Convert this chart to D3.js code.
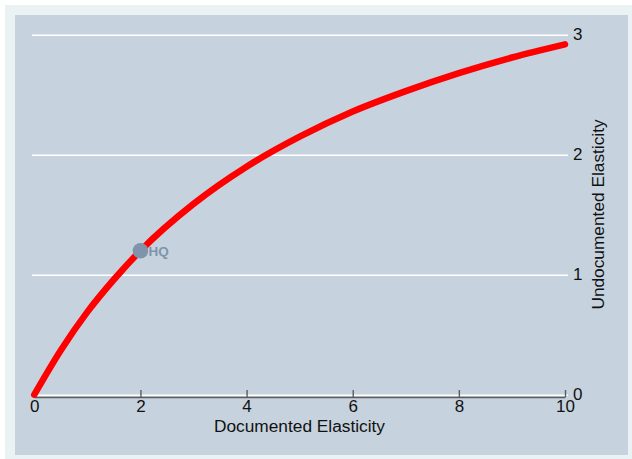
<!DOCTYPE html>
<html>
<head>
<meta charset="utf-8">
<script src="https://cdn.jsdelivr.net/npm/d3@7"></script>
<style>
html,body{margin:0;padding:0;background:#fff;}
svg{display:block;font-family:"Liberation Sans",Arial,Helvetica,sans-serif;}
</style>
</head>
<body>
<svg id="chart" width="632" height="459"></svg>
<script>
// Curve values
const documented = [0, 0.5, 1, 1.5, 2, 3, 4, 5, 6, 7, 8, 9, 10];
const undocumented = [0, 0.37, 0.69, 0.96, 1.2, 1.59, 1.9, 2.15, 2.36, 2.53, 2.68, 2.81, 2.92];
// Marked point
const pointX = [2];
const pointY = [1.2];
const pointLabel = ["HQ"];
// Ticks
const xTicks = [0, 2, 4, 6, 8, 10];
const yTicks = [0, 1, 2, 3];
const xTitle = "Documented Elasticity";
const yTitle = "Undocumented Elasticity";

const svg = d3.select("#chart");
const W = 632, H = 459;

svg.append("rect").attr("x", 0).attr("y", 0).attr("width", W).attr("height", H).attr("fill", "#ffffff");
svg.append("rect").attr("x", 5).attr("y", 5).attr("width", W - 5).attr("height", H - 5).attr("fill", "#eaf2f3");
svg.append("rect").attr("x", 15).attr("y", 15).attr("width", 613).attr("height", 440).attr("fill", "#c6d3df");

const x = d3.scaleLinear().domain([0, 10]).range([34.3, 565]);
const y = d3.scaleLinear().domain([0, 3]).range([394.7, 34.7]);

// gridlines
const grid = svg.append("g").attr("transform", "translate(568,0)")
  .call(d3.axisLeft(y).tickValues(yTicks).tickSizeInner(536).tickSizeOuter(0).tickFormat(""));
grid.select(".domain").remove();
grid.selectAll(".tick line").attr("stroke", "#ffffff").attr("stroke-width", 1.6);

// x axis
const xa = svg.append("g").attr("transform", "translate(0,397)")
  .call(d3.axisBottom(x).tickValues(xTicks).tickFormat(d3.format("d")).tickSizeInner(-7).tickSizeOuter(0).tickPadding(0));
xa.select(".domain").attr("stroke", "#5c5c5c").attr("stroke-width", 1.6);
xa.selectAll(".tick line").attr("stroke", "#5c5c5c").attr("stroke-width", 1.4);
xa.selectAll(".tick text").attr("y", 15).attr("dy", 0).attr("font-size", 17).attr("fill", "#111")
  .attr("font-family", "Liberation Sans, Arial, sans-serif");

// y axis (right)
const ya = svg.append("g").attr("transform", "translate(565,0)")
  .call(d3.axisRight(y).tickValues(yTicks).tickFormat(d3.format("d")).tickSize(0).tickPadding(8));
ya.select(".domain").remove();
ya.selectAll(".tick text").attr("font-size", 17).attr("fill", "#111")
  .attr("font-family", "Liberation Sans, Arial, sans-serif").attr("dy", "0.3em");

// titles
svg.append("text").attr("x", 299.5).attr("y", 432).attr("text-anchor", "middle")
  .attr("font-size", 17.3).attr("fill", "#111").text(xTitle);
svg.append("text").attr("transform", "translate(604,214.5) rotate(-90)").attr("text-anchor", "middle")
  .attr("font-size", 17.3).attr("fill", "#111").text(yTitle);

// curve
const data = documented.map((d, i) => ({x: d, y: undocumented[i]}));
const line = d3.line().x(d => x(d.x)).y(d => y(d.y)).curve(d3.curveMonotoneX);
svg.append("path").datum(data).attr("d", line).attr("fill", "none")
  .attr("stroke", "#ff0000").attr("stroke-width", 6.5).attr("stroke-linecap", "round").attr("stroke-linejoin", "round");

// point
const pts = pointX.map((d, i) => ({x: d, y: pointY[i], label: pointLabel[i]}));
svg.selectAll("circle.pt").data(pts).enter().append("circle")
  .attr("cx", d => x(d.x)).attr("cy", d => y(d.y)).attr("r", 7.8).attr("fill", "#7f94aa");
svg.selectAll("text.pt").data(pts).enter().append("text")
  .attr("x", d => x(d.x) + 8).attr("y", d => y(d.y) + 5).attr("font-size", 13.5).attr("font-weight", "bold")
  .attr("fill", "#7f94aa").text(d => d.label);
</script>
</body>
</html>
